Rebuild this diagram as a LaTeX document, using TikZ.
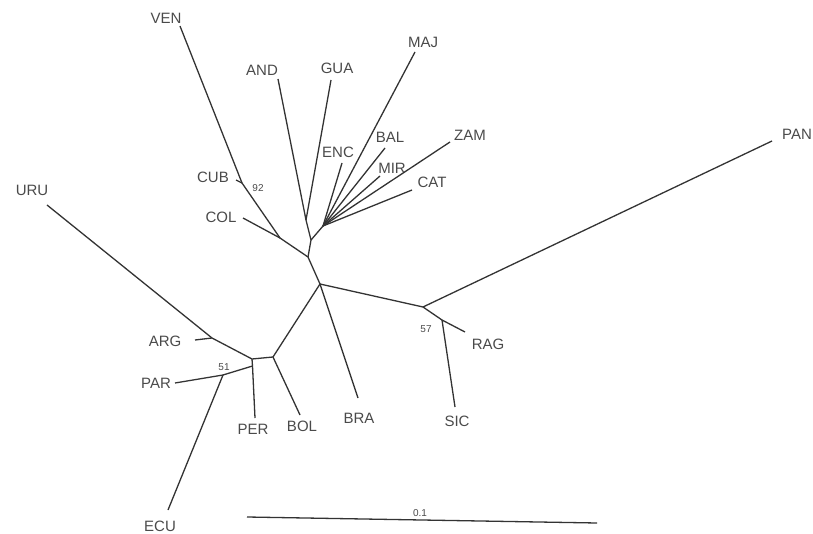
\documentclass[tikz,border=0pt]{standalone}
\usepackage{fontspec}
\setmainfont{Liberation Sans}
\usetikzlibrary{positioning}
\definecolor{branchgray}{HTML}{333333}
\definecolor{labelgray}{HTML}{4A4A4A}

\begin{document}
\begin{tikzpicture}[x=1pt, y=-1pt,
  edge/.style={draw=branchgray, line width=1.3pt},
  taxon/.style={text=labelgray, inner sep=0pt, font=\fontsize{15}{15}\selectfont},
  boot/.style={text=labelgray, inner sep=0pt, font=\fontsize{10}{10}\selectfont}]
\useasboundingbox (0,0) rectangle (813,534);
% inner nodes of the tree
\coordinate (ag) at (306,220);
\coordinate (fan) at (323,226);
\coordinate (y) at (311,240);
\coordinate (cub) at (242,183);
\coordinate (cv) at (280,238);
\coordinate (z) at (308,257);
\coordinate (m) at (320,284);
\coordinate (p) at (423,307);
\coordinate (s) at (442,320);
\coordinate (bn) at (273,357);
\coordinate (a) at (252,359);
\coordinate (b) at (252.5,366);
\coordinate (c) at (223,375);
\coordinate (argN) at (212,338);
% tips
\coordinate (venT) at (180,26);
\coordinate (cubT) at (236,180);
\coordinate (colT) at (243,218);
\coordinate (andT) at (278,79);
\coordinate (guaT) at (331,80);
\coordinate (majT) at (415,52);
\coordinate (encT) at (342,163);
\coordinate (balT) at (385,148);
\coordinate (mirT) at (380,176);
\coordinate (zamT) at (450,142);
\coordinate (catT) at (412,190);
\coordinate (panT) at (772,141);
\coordinate (ragT) at (465,332);
\coordinate (sicT) at (455,407);
\coordinate (braT) at (358,398);
\coordinate (bolT) at (300,415);
\coordinate (perT) at (255,418);
\coordinate (uruT) at (47,205);
\coordinate (argT) at (195,340);
\coordinate (parT) at (175,383);
\coordinate (ecuT) at (168,510);
% labels
\node[taxon] (ven) at (166,18) {VEN};
\node[taxon] (and) at (262,70) {AND};
\node[taxon] (gua) at (337,68) {GUA};
\node[taxon] (maj) at (423,42) {MAJ};
\node[taxon] (enc) at (338,152) {ENC};
\node[taxon] (bal) at (390,137) {BAL};
\node[taxon] (mir) at (392,168) {MIR};
\node[taxon] (zam) at (470,135) {ZAM};
\node[taxon] (cat) at (432,182) {CAT};
\node[taxon] (pan) at (797,134) {PAN};
\node[taxon] (cubL) at (213,177) {CUB};
\node[taxon] (col) at (221,217) {COL};
\node[taxon] (uru) at (32,190) {URU};
\node[taxon] (arg) at (165,341) {ARG};
\node[taxon] (par) at (156,383) {PAR};
\node[taxon] (per) at (253,429) {PER};
\node[taxon] (bol) at (302,426) {BOL};
\node[taxon] (bra) at (359,418) {BRA};
\node[taxon] (sic) at (457,421) {SIC};
\node[taxon] (rag) at (488,344) {RAG};
\node[taxon] (ecu) at (160,526) {ECU};
\node[boot] (b92) at (258,188) {92};
\node[boot] (b51) at (224,367) {51};
\node[boot] (b57) at (426,329) {57};
% branches
\draw[edge] (venT) -- (cub) -- (cv) -- (z) -- (m);
\draw[edge] (cubT) -- (cub);
\draw[edge] (colT) -- (cv);
\draw[edge] (andT) -- (ag) -- (y) -- (z);
\draw[edge] (guaT) -- (ag);
\draw[edge] (fan) -- (y);
\foreach \t in {majT,encT,balT,mirT,zamT,catT}
  \draw[edge] (\t) -- (fan);
\draw[edge] (m) -- (p) -- (panT);
\draw[edge] (p) -- (s) -- (ragT);
\draw[edge] (s) -- (sicT);
\draw[edge] (m) -- (braT);
\draw[edge] (m) -- (bn) -- (bolT);
\draw[edge] (bn) -- (a) -- (argN) -- (uruT);
\draw[edge] (argT) -- (argN);
\draw[edge] (a) -- (b) -- (perT);
\draw[edge] (b) -- (c) -- (parT);
\draw[edge] (c) -- (ecuT);
% scale bar
\coordinate (sbL) at (247,517);
\coordinate (sbR) at (597,523);
\draw[edge] (sbL) -- (sbR);
\node[boot] (sb) at (420,513) {0.1};
\end{tikzpicture}
\end{document}
